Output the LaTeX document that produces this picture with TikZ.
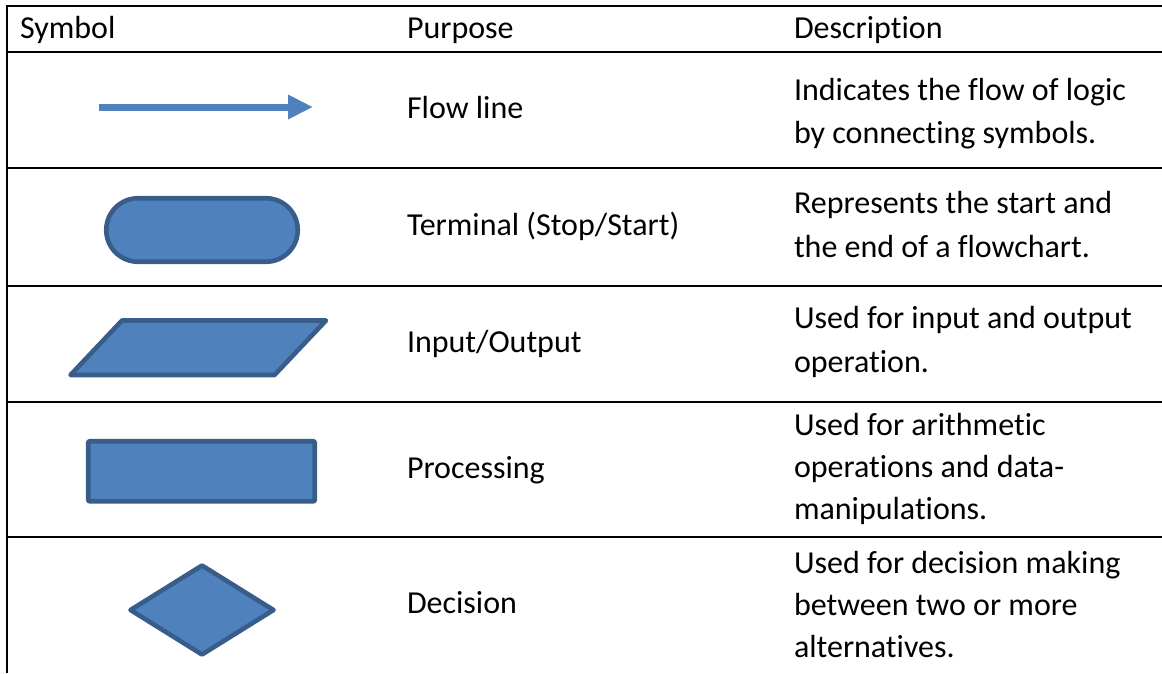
\documentclass[tikz,border=0pt]{standalone}
\usepackage{fontspec}
\setmainfont[Ligatures={CommonOff,ContextualOff,RareOff}]{Carlito}
\usetikzlibrary{arrows.meta}
\definecolor{shapefill}{HTML}{4F81BD}
\definecolor{shapeedge}{HTML}{385D8A}
\newcommand\nlg{\kern0pt }
\tikzset{
  rule/.style={line width=1.6pt, black},
  sym/.style={fill=shapefill, draw=shapeedge, line width=4.6pt, line join=round},
  txt/.style={anchor=base west, inner sep=0pt, outer sep=0pt, font=\fontsize{32}{43}\selectfont},
}
\begin{document}
\begin{tikzpicture}[x=1pt,y=-1pt]
\useasboundingbox (0,0) rectangle (1162,673);
% table rules
\draw[rule] (6,6) -- (1162,6);
\draw[rule] (6,52) -- (1162,52);
\draw[rule] (6,168) -- (1162,168);
\draw[rule] (6,286) -- (1162,286);
\draw[rule] (6,402) -- (1162,402);
\draw[rule] (6,537) -- (1162,537);
\draw[rule] (7,5.2) -- (7,673);
% header
\node[txt] (hsym) at (20,38.5) {Symbol};
\node[txt] (hpur) at (407,38.5) {Purpose};
\node[txt] (hdes) at (794,38.5) {Descript\nlg ion};
% row 1: flow line
\coordinate (fa) at (99,107);
\coordinate (fb) at (313,107);
\draw[shapefill, line width=7pt, -{Triangle[length=25pt,width=23pt]}] (fa) -- (fb);
\node[txt] (p1) at (407,118) {Flow line};
\node[txt] (d1a) at (794,100) {Indicates the f\nlg low of logic};
\node[txt] (d1b) at (794,143) {by connecting symbols.};
% row 2: terminal
\draw[sym, rounded corners=31.7pt] (106.25,198.25) rectangle (297.75,261.75);
\node[txt] (p2) at (407,235) {Terminal (Stop/Start)};
\node[txt] (d2a) at (794,213) {Represents the start and};
\node[txt] (d2b) at (794,257) {the end of a f\nlg lowchart.};
% row 3: input/output
\draw[sym] (70.5,375) -- (122,320.5) -- (326,320.5) -- (274.5,375) -- cycle;
\node[txt] (p3) at (407,352) {Input/Output};
\node[txt] (d3a) at (794,328) {Used for input and output};
\node[txt] (d3b) at (794,372) {operat\nlg ion.};
% row 4: processing
\draw[sym, rounded corners=1pt] (88.25,441.25) rectangle (314.75,501.25);
\node[txt] (p4) at (407,478) {Processing};
\node[txt] (d4a) at (794,435) {Used for arithmet\nlg ic};
\node[txt] (d4b) at (794,477) {operat\nlg ions and data-};
\node[txt] (d4c) at (794,519) {manipulat\nlg ions.};
% row 5: decision
\draw[sym] (130.5,610) -- (202,565.5) -- (273.5,610) -- (202,654.5) -- cycle;
\node[txt] (p5) at (407,613) {Decision};
\node[txt] (d5a) at (794,573) {Used for decision making};
\node[txt] (d5b) at (794,615) {between two or more};
\node[txt] (d5c) at (794,657) {alternat\nlg ives.};
\end{tikzpicture}
\end{document}
